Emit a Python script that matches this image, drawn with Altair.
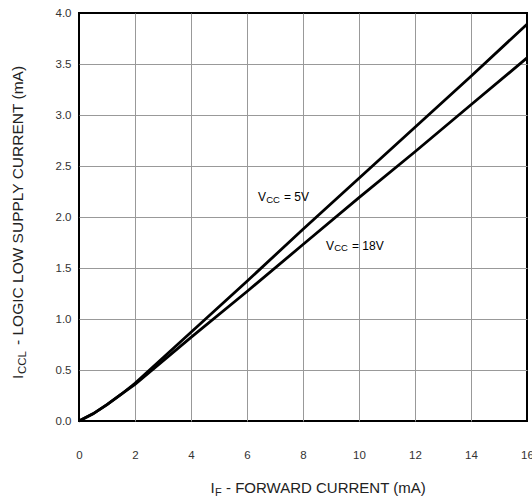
import altair as alt
import pandas as pd

# Data
forward_current = [0, 0.5, 1, 1.5, 2, 3, 4, 6, 8, 10, 12, 14, 16]
icc_5v = [0, 0.07, 0.16, 0.26, 0.37, 0.62, 0.87, 1.37, 1.88, 2.38, 2.88, 3.38, 3.89]
icc_18v = [0, 0.07, 0.16, 0.26, 0.36, 0.59, 0.82, 1.27, 1.73, 2.19, 2.64, 3.10, 3.56]
series_names = ["VCC = 5V", "VCC = 18V"]

x_ticks = [0, 2, 4, 6, 8, 10, 12, 14, 16]
y_ticks = [0, 0.5, 1.0, 1.5, 2.0, 2.5, 3.0, 3.5, 4.0]

# annotation anchor points (data coords) and texts
label_x = [6.39, 8.82]
label_y = [2.196, 1.716]
label_main = ["V", "V"]
label_sub = ["CC", "CC"]
label_rest = ["= 5V", "= 18V"]

FONT = "Liberation Sans"
W, H = 448, 408

rows = []
for name, ys in zip(series_names, [icc_5v, icc_18v]):
    for x, y in zip(forward_current, ys):
        rows.append({"series": name, "x": x, "y": y})
df = pd.DataFrame(rows)

labels = pd.DataFrame({"x": label_x, "y": label_y, "main": label_main,
                       "sub": label_sub, "rest": label_rest})

xs = alt.Scale(domain=[0, 16], nice=False, zero=False)
ys = alt.Scale(domain=[0, 4], nice=False, zero=False)

edge_x = {"condition": {"test": "datum.value == 0 || datum.value == 16", "value": 0}, "value": 1}
edge_y = {"condition": {"test": "datum.value == 0 || datum.value == 4", "value": 0}, "value": 1}

lines = alt.Chart(df).mark_line(color="black", strokeWidth=2.8).encode(
    x=alt.X("x:Q", scale=xs, axis=alt.Axis(values=x_ticks, title=None, ticks=False,
                                          domain=False, labelPadding=28, labelFontSize=11.5,
                                          labelColor="#333", labelFont=FONT,
                                          gridColor="#999", gridWidth=1, gridOpacity=edge_x,
                                          labelFlush=False)),
    y=alt.Y("y:Q", scale=ys, axis=alt.Axis(values=y_ticks, format=".1f", title=None,
                                          ticks=False, domain=False, labelPadding=8,
                                          labelFontSize=11.5, labelColor="#333", labelFont=FONT,
                                          gridColor="#999", gridWidth=1, gridOpacity=edge_y,
                                          labelFlush=False)),
    detail="series:N",
)

base_lab = alt.Chart(labels)
t_main = base_lab.mark_text(align="left", baseline="middle", font=FONT, fontSize=12,
                            color="black").encode(x=alt.X("x:Q", scale=xs),
                                                  y=alt.Y("y:Q", scale=ys), text="main:N")
t_sub = base_lab.mark_text(align="left", baseline="middle", font=FONT, fontSize=9.5,
                           color="black", dx=8.3, dy=2.5).encode(x=alt.X("x:Q", scale=xs),
                                                                  y=alt.Y("y:Q", scale=ys), text="sub:N")
t_rest = base_lab.mark_text(align="left", baseline="middle", font=FONT, fontSize=12,
                            color="black", dx=26).encode(x=alt.X("x:Q", scale=xs),
                                                         y=alt.Y("y:Q", scale=ys), text="rest:N")

# axis titles with subscripts
title_df = pd.DataFrame({"a": [0]})
tb = alt.Chart(title_df)
xt_I = tb.mark_text(align="left", baseline="alphabetic", font=FONT, fontSize=15,
                    color="#222").encode(x=alt.value(131.5), y=alt.value(479.5), text=alt.value("I"))
xt_F = tb.mark_text(align="left", baseline="alphabetic", font=FONT, fontSize=11,
                    color="#222").encode(x=alt.value(136), y=alt.value(482.5), text=alt.value("F"))
xt_r = tb.mark_text(align="left", baseline="alphabetic", font=FONT, fontSize=15,
                    color="#222").encode(x=alt.value(147), y=alt.value(479.5),
                                         text=alt.value("- FORWARD CURRENT (mA)"))
yt_I = tb.mark_text(align="left", baseline="alphabetic", font=FONT, fontSize=15.5, angle=270,
                    color="#222").encode(x=alt.value(-56.5), y=alt.value(366), text=alt.value("I"))
yt_C = tb.mark_text(align="left", baseline="alphabetic", font=FONT, fontSize=11.5, angle=270,
                    color="#222").encode(x=alt.value(-53.5), y=alt.value(361), text=alt.value("CCL"))
yt_r = tb.mark_text(align="left", baseline="alphabetic", font=FONT, fontSize=15.5, angle=270,
                    color="#222").encode(x=alt.value(-56.5), y=alt.value(332),
                                         text=alt.value("- LOGIC LOW SUPPLY CURRENT (mA)"))

chart = alt.layer(lines, t_main, t_sub, t_rest, xt_I, xt_F, xt_r, yt_I, yt_C, yt_r).properties(
    width=W, height=H,
    autosize=alt.AutoSizeParams(type="none"),
    padding={"left": 79, "top": 13, "right": 5, "bottom": 80},
    background="white",
).configure_view(stroke="black", strokeWidth=2)

chart.save("out.html", embed_options={"renderer": "svg", "actions": False})
